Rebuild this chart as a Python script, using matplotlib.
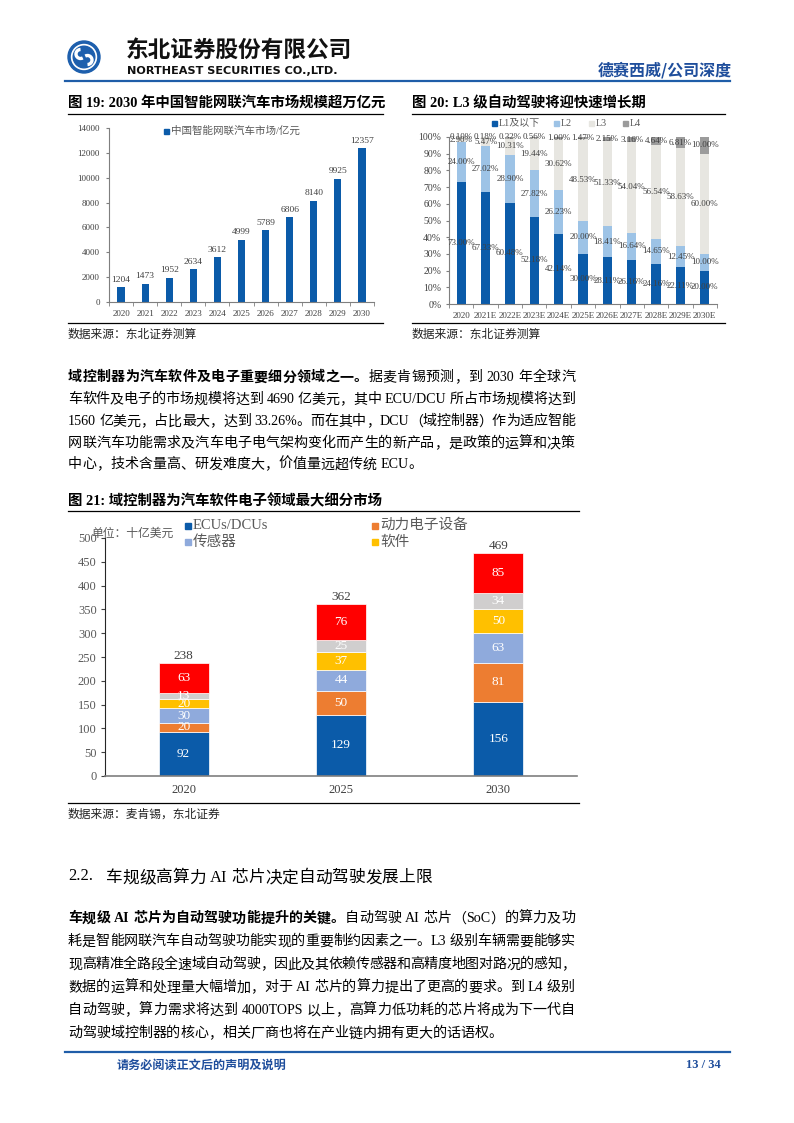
import re
import matplotlib
matplotlib.use('Agg')
import matplotlib.pyplot as plt
from matplotlib.patches import Circle, Rectangle, Arc
from matplotlib.lines import Line2D

W, H = 794, 1123
SERIF = ['Liberation Serif', 'Noto Sans CJK SC']
CJK = ['Noto Sans CJK SC', 'DejaVu Sans']
plt.rcParams['font.family'] = SERIF

# ---- data: fig 19 ----
years19 = ['2020', '2021', '2022', '2023', '2024', '2025', '2026', '2027', '2028', '2029', '2030']
market19 = [1204, 1473, 1952, 2634, 3612, 4999, 5789, 6806, 8140, 9925, 12357]

# ---- data: fig 20 ----
years20 = ['2020', '2021E', '2022E', '2023E', '2024E', '2025E', '2026E', '2027E', '2028E', '2029E', '2030E']
levels20 = ['L1及以下', 'L2', 'L3', 'L4']
l1 = [73.00, 67.33, 60.48, 52.18, 42.14, 30.00, 28.11, 26.16, 24.16, 22.11, 20.00]
l2 = [24.00, 27.02, 28.90, 27.82, 26.23, 20.00, 18.41, 16.64, 14.65, 12.45, 10.00]
l3 = [2.90, 5.47, 10.31, 19.44, 30.62, 48.53, 51.33, 54.04, 56.54, 58.63, 60.00]
l4 = [0.10, 0.18, 0.32, 0.56, 1.00, 1.47, 2.15, 3.16, 4.64, 6.81, 10.00]

# ---- data: fig 21 ----
years21 = ['2020', '2025', '2030']
names21 = ['ECUs/DCUs', '动力电子设备', '传感器', '软件']
ecu21 = [92, 129, 156]
power21 = [20, 50, 81]
sensor21 = [30, 44, 63]
software21 = [20, 37, 50]
other21 = [13, 25, 34]
rest21 = [63, 76, 85]
total21 = [238, 362, 469]

fig = plt.figure(figsize=(W / 100, H / 100), dpi=100)
fig.patch.set_facecolor('white')

# background axes in pixel coordinates (y down)
bg = fig.add_axes([0, 0, 1, 1])
bg.set_xlim(0, W)
bg.set_ylim(H, 0)
bg.axis('off')

BLUE = '#0B5BA9'
HEAD_BLUE = '#1F4E9C'
GREY_TXT = '#404040'


def hline(x0, x1, y, color='black', lw=0.9):
    bg.add_line(Line2D([x0, x1], [y, y], color=color, lw=lw))


def axes_px(x0, y0, x1, y1):
    return fig.add_axes([x0 / W, 1 - y1 / H, (x1 - x0) / W, (y1 - y0) / H])


def legend_item(x, y, color, label, size, sq, gap=3, tcolor='#595959'):
    bg.add_patch(Rectangle((x, y - sq / 2), sq, sq, color=color))
    bg.text(x + sq + gap, y, label, fontsize=size, color=tcolor, va='center', ha='left')


renderer = fig.canvas.get_renderer()


def measure(tok, size, weight):
    t1 = bg.text(0, 0, '中' + tok + '中', fontsize=size, weight=weight)
    t2 = bg.text(0, 0, '中中', fontsize=size, weight=weight)
    w = t1.get_window_extent(renderer).width - t2.get_window_extent(renderer).width
    t1.remove()
    t2.remove()
    return w


def text_line(segs, y, size, justify=True, x0=68, x1=575, color='black'):
    em = size * 100 / 72
    items = []
    for txt, weight in segs:
        for tok in re.findall(r' +|[\x21-\x7e]+|.', txt):
            if tok.startswith(' '):
                items.append((None, 0.25 * em * len(tok), weight))
            elif ord(tok[0]) < 128:
                items.append((tok, measure(tok, size, weight), weight))
            else:
                items.append((tok, em, weight))
    natural = sum(w for _, w, _ in items)
    gap = (x1 - x0 - natural) / (len(items) - 1) if justify else 0
    x = x0
    base = y + 0.38 * em
    for tok, w, weight in items:
        if tok:
            bg.text(x, base, tok, fontsize=size, weight=weight, color=color,
                    va='baseline', ha='left')
        x += w + gap


# ---------------- header ----------------
bg.add_patch(Circle((84, 57), 16, color='#1D5FAD'))
bg.add_patch(Circle((84, 57), 12.5, color='white'))
bg.add_patch(Circle((84, 57), 10.8, color='#1D5FAD'))
bg.add_patch(Arc((80.5, 54), 9, 9, theta1=60, theta2=270, color='white', lw=2.4))
bg.add_patch(Arc((87.5, 60), 9, 9, theta1=240, theta2=90, color='white', lw=2.4))
bg.text(126, 50, '东北证券股份有限公司', fontsize=16.3, weight='bold', family=CJK,
        color='#111111', va='center', ha='left')
bg.text(127, 71, 'NORTHEAST SECURITIES CO.,LTD.', fontsize=8.1, weight='bold',
        family='DejaVu Sans', color='#111111', va='center', ha='left')
bg.text(732, 70, '德赛西威/公司深度', fontsize=11.5, weight='bold', family=CJK,
        color=HEAD_BLUE, va='center', ha='right')
hline(65, 730, 81, color='#1F5DA8', lw=1.6)

# ---------------- figure 19 ----------------
bg.text(68, 103, '图 19: 2030 年中国智能网联汽车市场规模超万亿元', fontsize=10.4,
        weight='bold', va='center', ha='left')
hline(68, 383, 114)
ax1 = axes_px(109, 128, 374, 302)
x19 = list(range(len(years19)))
ax1.bar(x19, market19, width=0.3, color=BLUE)
for i, v in zip(x19, market19):
    ax1.text(i, v + 280, str(v), ha='center', va='bottom', fontsize=6.8, color=GREY_TXT)
ax1.set_xlim(-0.5, len(years19) - 0.5)
ax1.set_ylim(0, 14000)
ax1.set_yticks(range(0, 14001, 2000))
ax1.set_xticks(x19)
ax1.set_xticklabels(years19)
ax1.set_xticks([i - 0.5 for i in range(len(years19) + 1)], minor=True)
ax1.tick_params(axis='x', which='major', length=0, pad=6, labelsize=6.5, labelcolor=GREY_TXT)
ax1.tick_params(axis='x', which='minor', length=3, color='#7f7f7f')
ax1.tick_params(axis='y', length=2.5, pad=4, labelsize=6.5, labelcolor=GREY_TXT, color='#7f7f7f')
for s in ['top', 'right']:
    ax1.spines[s].set_visible(False)
for s in ['left', 'bottom']:
    ax1.spines[s].set_color('#7f7f7f')
    ax1.spines[s].set_linewidth(0.8)
ax1.set_facecolor('none')
legend_item(164, 131, BLUE, '中国智能网联汽车市场/亿元', 7.6, 5, gap=2)
hline(68, 383, 323)
bg.text(68, 334, '数据来源：东北证券测算', fontsize=8.5, family=CJK, color='#222222',
        va='center', ha='left')

# ---------------- figure 20 ----------------
bg.text(412, 103, '图 20: L3 级自动驾驶将迎快速增长期', fontsize=10.4, weight='bold',
        va='center', ha='left')
hline(412, 725, 114)
ax2 = axes_px(449, 137, 717, 304)
x20 = list(range(len(years20)))
colors20 = [BLUE, '#9DC3E6', '#E7E6E1', '#9B9B9B']
bottom = [0.0] * len(years20)
for series, col in zip([l1, l2, l3, l4], colors20):
    ax2.bar(x20, series, width=0.38, bottom=bottom, color=col, zorder=2)
    for i, v in enumerate(series):
        ax2.text(i, bottom[i] + v / 2, f'{v:.2f}%', ha='center', va='center',
                 fontsize=6.5, color=GREY_TXT, clip_on=False, zorder=5)
    bottom = [b + v for b, v in zip(bottom, series)]
ax2.set_xlim(-0.5, len(years20) - 0.5)
ax2.set_ylim(0, 100)
ax2.set_yticks(range(0, 101, 10))
ax2.set_yticklabels([f'{t}%' for t in range(0, 101, 10)])
ax2.set_xticks(x20)
ax2.set_xticklabels(years20)
ax2.set_xticks([i - 0.5 for i in range(len(years20) + 1)], minor=True)
ax2.tick_params(axis='x', which='major', length=0, pad=6, labelsize=6.5, labelcolor=GREY_TXT)
ax2.tick_params(axis='x', which='minor', length=3, color='#7f7f7f')
ax2.tick_params(axis='y', length=2.5, pad=3, labelsize=7, labelcolor=GREY_TXT, color='#7f7f7f')
for s in ['top', 'right']:
    ax2.spines[s].set_visible(False)
for s in ['left', 'bottom']:
    ax2.spines[s].set_color('#7f7f7f')
    ax2.spines[s].set_linewidth(0.8)
ax2.set_facecolor('none')
for lx, col, name in zip([492, 554, 589, 623], colors20, levels20):
    legend_item(lx, 123, col, name, 7.2, 5, gap=1.5)
hline(412, 725, 323)
bg.text(412, 334, '数据来源：东北证券测算', fontsize=8.5, family=CJK, color='#222222',
        va='center', ha='left')

# ---------------- paragraph 1 ----------------
P = 10.1
text_line([('域控制器为汽车软件及电子重要细分领域之一。', 'bold'),
           ('据麦肯锡预测，到 2030 年全球汽', 'normal')], 376, P)
text_line([('车软件及电子的市场规模将达到 4690 亿美元，其中 ECU/DCU 所占市场规模将达到', 'normal')], 398, P)
text_line([('1560 亿美元，占比最大，达到 33.26%。而在其中，DCU（域控制器）作为适应智能', 'normal')], 420, P)
text_line([('网联汽车功能需求及汽车电子电气架构变化而产生的新产品，是政策的运算和决策', 'normal')], 442, P)
text_line([('中心，技术含量高、研发难度大，价值量远超传统 ECU。', 'normal')], 463, P, justify=False)

# ---------------- figure 21 ----------------
bg.text(68, 501, '图 21: 域控制器为汽车软件电子领域最大细分市场', fontsize=10.4,
        weight='bold', va='center', ha='left')
hline(68, 579, 511)
ax3 = axes_px(105, 538, 577, 776)
x21 = list(range(len(years21)))
colors21 = [BLUE, '#ED7D31', '#8FAADC', '#FFC000', '#D0CECE', '#FF0000']
bottom = [0] * len(years21)
for series, col in zip([ecu21, power21, sensor21, software21, other21, rest21], colors21):
    ax3.bar(x21, series, width=0.318, bottom=bottom, color=col, edgecolor='white',
            linewidth=0.5, zorder=2)
    for i, v in enumerate(series):
        ax3.text(i, bottom[i] + v / 2, str(v), ha='center', va='center',
                 fontsize=9.5, color='white', zorder=5)
    bottom = [b + v for b, v in zip(bottom, series)]
for i, t in enumerate(total21):
    ax3.text(i, max(t, bottom[i]) + 2, str(t), ha='center', va='bottom', fontsize=9.5,
             color=GREY_TXT, zorder=5)
ax3.set_xlim(-0.5, len(years21) - 0.5)
ax3.set_ylim(0, 500)
ax3.set_yticks(range(0, 501, 50))
ax3.set_xticks(x21)
ax3.set_xticklabels(years21)
ax3.tick_params(axis='x', length=0, pad=6, labelsize=9, labelcolor=GREY_TXT)
ax3.tick_params(axis='y', length=3, pad=3, labelsize=9, labelcolor='#595959', color='#404040')
for s in ['top', 'right']:
    ax3.spines[s].set_visible(False)
ax3.spines['left'].set_color('#262626')
ax3.spines['bottom'].set_color('#7f7f7f')
ax3.spines['bottom'].set_linewidth(1.2)
ax3.set_facecolor('none')
bg.text(91, 533, '单位：十亿美元', fontsize=8.5, family=CJK, color='#595959',
        va='center', ha='left')
legend_item(185, 525.5, colors21[0], names21[0], 10.5, 6, gap=2)
legend_item(372, 525.5, colors21[1], names21[1], 10.5, 6, gap=2)
legend_item(185, 542, colors21[2], names21[2], 10.5, 6, gap=2)
legend_item(372, 542, colors21[3], names21[3], 10.5, 6, gap=2)
hline(68, 579, 803)
bg.text(68, 814, '数据来源：麦肯锡，东北证券', fontsize=8.5, family=CJK, color='#222222',
        va='center', ha='left')

# ---------------- section 2.2 ----------------
bg.text(68, 876, '2.2.', fontsize=12, va='center', ha='left')
text_line([('车规级高算力 AI 芯片决定自动驾驶发展上限', 'normal')], 876, 12, justify=False, x0=106)

text_line([('车规级 AI 芯片为自动驾驶功能提升的关键。', 'bold'),
           ('自动驾驶 AI 芯片（SoC）的算力及功', 'normal')], 917, P)
text_line([('耗是智能网联汽车自动驾驶功能实现的重要制约因素之一。L3 级别车辆需要能够实', 'normal')], 940, P)
text_line([('现高精准全路段全速域自动驾驶，因此及其依赖传感器和高精度地图对路况的感知，', 'normal')], 963, P)
text_line([('数据的运算和处理量大幅增加，对于 AI 芯片的算力提出了更高的要求。到 L4 级别', 'normal')], 986, P)
text_line([('自动驾驶，算力需求将达到 4000TOPS 以上，高算力低功耗的芯片将成为下一代自', 'normal')], 1009, P)
text_line([('动驾驶域控制器的核心，相关厂商也将在产业链内拥有更大的话语权。', 'normal')], 1032, P, justify=False)

# ---------------- footer ----------------
hline(65, 730, 1052, color='#1F5DA8', lw=1.6)
bg.text(117, 1065, '请务必阅读正文后的声明及说明', fontsize=8.7, weight='bold', family=CJK,
        color=HEAD_BLUE, va='center', ha='left')
bg.text(721, 1065, '13 / 34', fontsize=9, weight='bold', color=HEAD_BLUE, va='center', ha='right')

fig.savefig('out.png', dpi=100, facecolor='white')
